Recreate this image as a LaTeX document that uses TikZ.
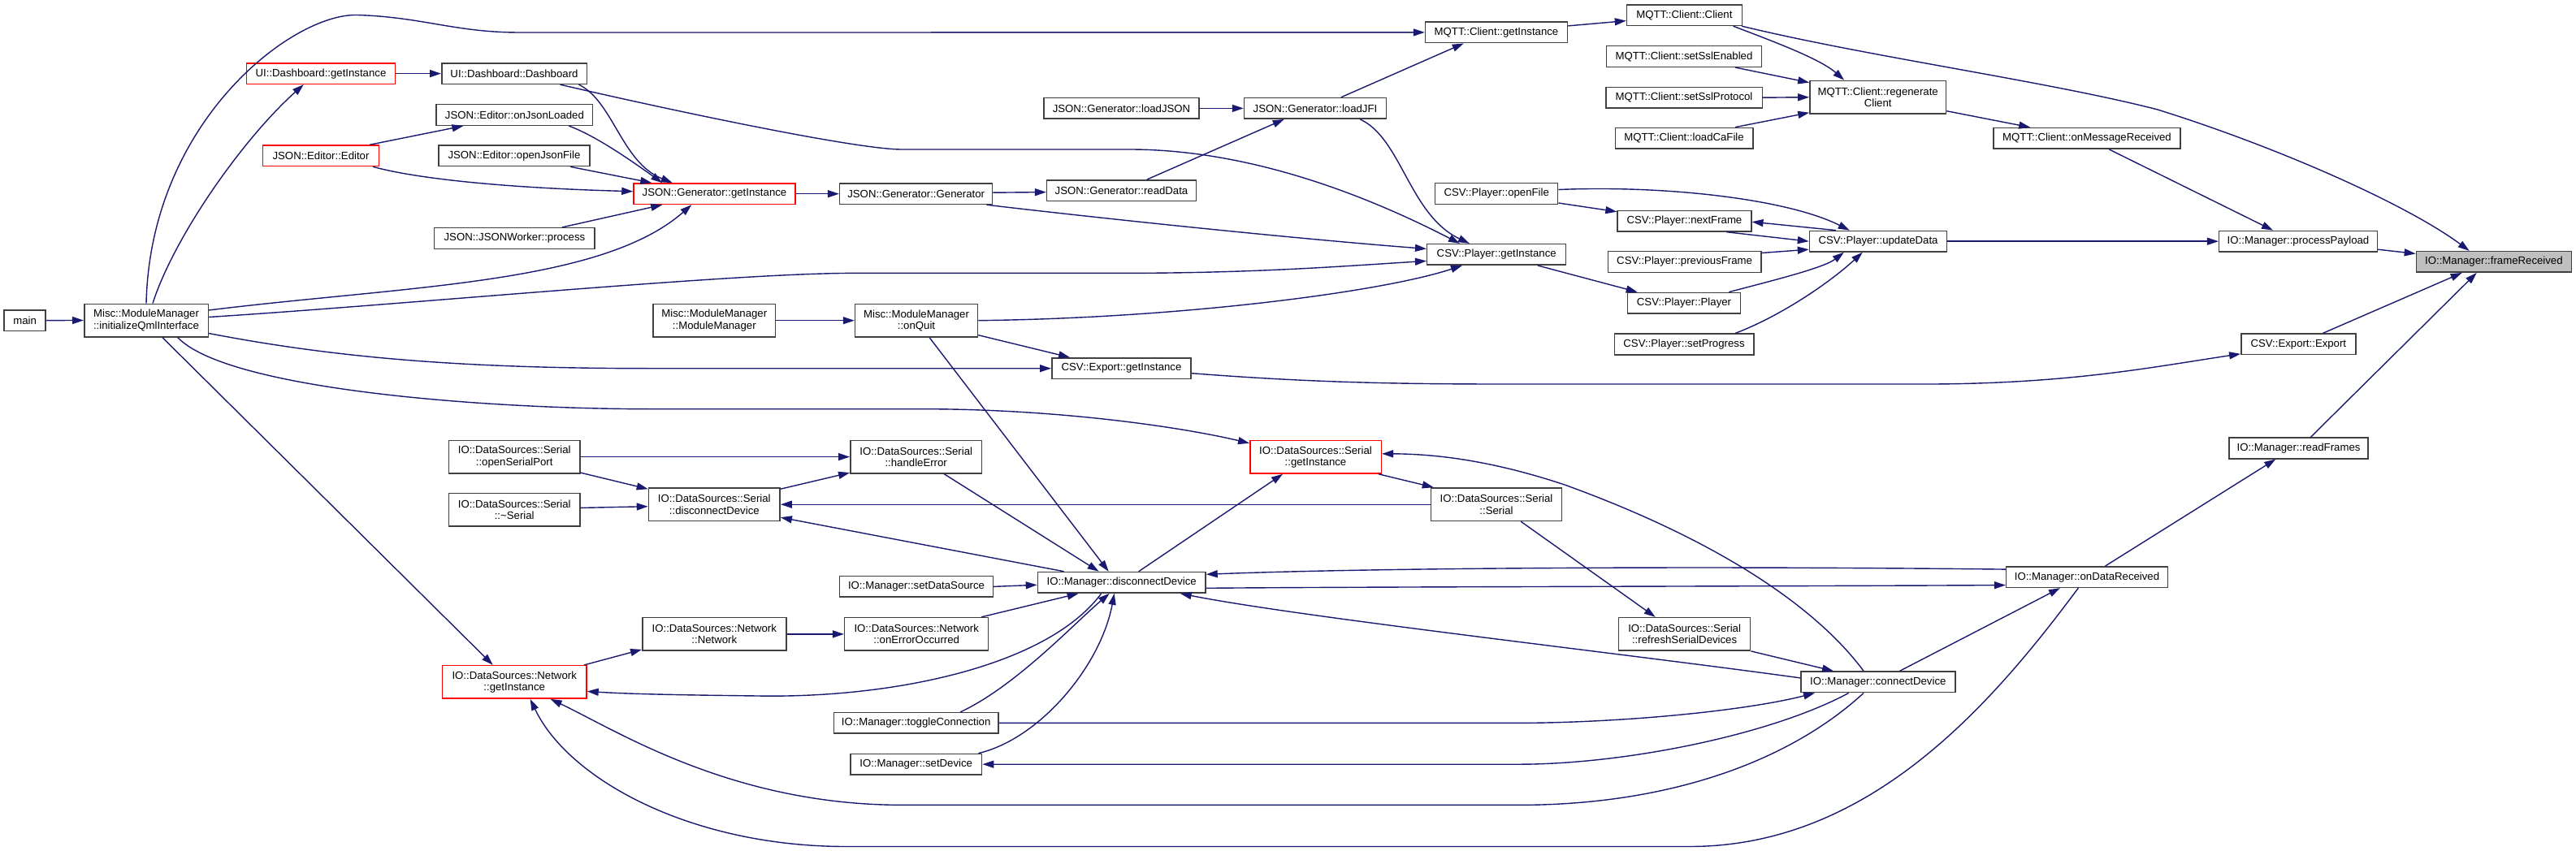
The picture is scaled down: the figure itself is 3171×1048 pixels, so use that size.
\documentclass[tikz,border=0pt]{standalone}
\usepackage{fontspec}
\setmainfont{Liberation Sans}
\usetikzlibrary{arrows.meta,calc}
\definecolor{edgec}{HTML}{191970}
\definecolor{rootfill}{HTML}{BFBFBF}
\definecolor{boxline}{HTML}{404040}
\tikzset{
  fn/.style={draw=boxline, fill=white, line width=1.5pt, inner sep=0pt, minimum height=25.6pt,
    align=center, font=\fontsize{13.2}{14.3}\selectfont, text=black},
  tall/.style={minimum height=40.5pt},
  trunc/.style={draw=red},
  rootnode/.style={fill=rootfill},
  callarrow/.style={draw=edgec, line width=1.4pt, -{Triangle[length=14pt,width=9pt]}}
}
\begin{document}
\begin{tikzpicture}[x=1pt,y=-1pt]
\useasboundingbox (0,0) rectangle (3171,1048);
% ---------------- nodes ----------------
\node[fn, minimum width=51pt] (main) at (30.6,394.6) {main};
\node[fn, tall, minimum width=152.5pt] (iqml) at (180,394.5) {Misc::ModuleManager\\::initializeQmlInterface};
\node[fn, trunc, minimum width=183pt] (udgi) at (395,90.6) {UI::Dashboard::getInstance};
\node[fn, minimum width=178.5pt] (udd) at (633,90.6) {UI::Dashboard::Dashboard};
\node[fn, minimum width=192.4pt] (jeol) at (633.4,141.5) {JSON::Editor::onJsonLoaded};
\node[fn, trunc, minimum width=142.8pt] (jee) at (395,191.8) {JSON::Editor::Editor};
\node[fn, minimum width=185.7pt] (jeof) at (633,191.8) {JSON::Editor::openJsonFile};
\node[fn, minimum width=197.4pt] (jwp) at (633.4,293.5) {JSON::JSONWorker::process};
\node[fn, trunc, minimum width=199pt] (jggi) at (879.5,238.7) {JSON::Generator::getInstance};
\node[fn, minimum width=188pt] (jgg) at (1127.7,238.7) {JSON::Generator::Generator};
\node[fn, minimum width=183.7pt] (jgrd) at (1380.5,234.6) {JSON::Generator::readData};
\node[fn, minimum width=190.8pt] (jglj) at (1380.5,133.4) {JSON::Generator::loadJSON};
\node[fn, minimum width=175pt] (jgjfi) at (1619,133.4) {JSON::Generator::loadJFI};
\node[fn, tall, minimum width=150.5pt] (mmmm) at (879.3,394.7) {Misc::ModuleManager\\::ModuleManager};
\node[fn, tall, minimum width=151pt] (mmoq) at (1128,394.7) {Misc::ModuleManager\\::onQuit};
\node[fn, minimum width=171.4pt] (cegi) at (1380.5,453.7) {CSV::Export::getInstance};
\node[fn, minimum width=175pt] (mcgi) at (1842,39.9) {MQTT::Client::getInstance};
\node[fn, minimum width=141.7pt] (mcc) at (2073.4,18.6) {MQTT::Client::Client};
\node[fn, minimum width=191.4pt] (mcsse) at (2073,69.5) {MQTT::Client::setSslEnabled};
\node[fn, minimum width=192.5pt] (mcssp) at (2073,120.2) {MQTT::Client::setSslProtocol};
\node[fn, minimum width=169.5pt] (mclca) at (2073,170.2) {MQTT::Client::loadCaFile};
\node[fn, tall, minimum width=167.6pt] (mcrc) at (2311.7,119.7) {MQTT::Client::regenerate\\Client};
\node[fn, minimum width=151pt] (cpof) at (1842.2,238.5) {CSV::Player::openFile};
\node[fn, minimum width=164.7pt] (cpnf) at (2073.4,272.2) {CSV::Player::nextFrame};
\node[fn, minimum width=171pt] (cpgi) at (1842.2,313.4) {CSV::Player::getInstance};
\node[fn, minimum width=188.3pt] (cppf) at (2073.6,322.5) {CSV::Player::previousFrame};
\node[fn, minimum width=139.1pt] (cpp) at (2073,373.2) {CSV::Player::Player};
\node[fn, minimum width=171.5pt] (cpsp) at (2073,424) {CSV::Player::setProgress};
\node[fn, minimum width=169pt] (cpud) at (2312,297.2) {CSV::Player::updateData};
\node[fn, minimum width=230pt] (mcomr) at (2569,170.4) {MQTT::Client::onMessageReceived};
\node[fn, minimum width=194.6pt] (impp) at (2829,297.2) {IO::Manager::processPayload};
\node[fn, rootnode, minimum width=191pt] (imfr) at (3069.9,322.4) {IO::Manager::frameReceived};
\node[fn, minimum width=141pt] (cee) at (2829.3,423.8) {CSV::Export::Export};
\node[fn, minimum width=171pt] (imrf) at (2829.5,552) {IO::Manager::readFrames};
\node[fn, minimum width=198.7pt] (imodr) at (2569,710.6) {IO::Manager::onDataReceived};
\node[fn, tall, trunc, minimum width=161.5pt] (sgi) at (1619.5,562.8) {IO::DataSources::Serial\\::getInstance};
\node[fn, tall, minimum width=161pt] (sser) at (1842,621.2) {IO::DataSources::Serial\\::Serial};
\node[fn, tall, minimum width=162.2pt] (srsd) at (2073.6,780.9) {IO::DataSources::Serial\\::refreshSerialDevices};
\node[fn, minimum width=190pt] (imcd) at (2311.8,839.9) {IO::Manager::connectDevice};
\node[fn, tall, minimum width=161.8pt] (she) at (1127.7,562.6) {IO::DataSources::Serial\\::handleError};
\node[fn, tall, minimum width=161.7pt] (sdd) at (879.3,621.2) {IO::DataSources::Serial\\::disconnectDevice};
\node[fn, minimum width=188.8pt] (imsds) at (1128,722.4) {IO::Manager::setDataSource};
\node[fn, minimum width=206.6pt] (imdd) at (1380.7,717.3) {IO::Manager::disconnectDevice};
\node[fn, tall, minimum width=177pt] (nn) at (879.3,780.9) {IO::DataSources::Network\\::Network};
\node[fn, tall, minimum width=177pt] (neo) at (1128.2,780.9) {IO::DataSources::Network\\::onErrorOccurred};
\node[fn, minimum width=202.6pt] (imtc) at (1127.7,890.4) {IO::Manager::toggleConnection};
\node[fn, minimum width=161.8pt] (imsd) at (1127.7,941.2) {IO::Manager::setDevice};
\node[fn, tall, minimum width=161.2pt] (sosp) at (633.2,562.6) {IO::DataSources::Serial\\::openSerialPort};
\node[fn, tall, minimum width=161.2pt] (sds) at (633.2,627.7) {IO::DataSources::Serial\\::\textasciitilde Serial};
\node[fn, tall, trunc, minimum width=177.6pt] (ngi) at (633.2,839.9) {IO::DataSources::Network\\::getInstance};
% ---------------- edges ----------------
\draw[callarrow] (main.east) -- (iqml.west);
\draw[callarrow] ($(iqml.north west)+(85,0)$) .. controls (215,290) and (300,170) .. ($(udgi.south west)+(71,0)$);
\draw[callarrow] (udgi.east) -- (udd.west);
\draw[callarrow] ($(jee.north east)+(-12,0)$) -- ($(jeol.south west)+(34,0)$);
\draw[callarrow] ($(jee.south east)+(-8,0)$) .. controls (520,222) and (640,232) .. ($(jggi.west)+(0,-3)$);
\draw[callarrow] ($(udd.south east)+(-10.5,0)$) .. controls (755,125) and (765,200) .. ($(jggi.north west)+(48.5,0)$);
\draw[callarrow] ($(jeol.south east)+(-30,0)$) .. controls (735,168) and (780,200) .. ($(jggi.north west)+(36,0)$);
\draw[callarrow] ($(jeof.south east)+(-24.5,0)$) -- ($(jggi.north west)+(23,0)$);
\draw[callarrow] ($(jwp.north east)+(-41,0)$) -- ($(jggi.south west)+(36,0)$);
\draw[callarrow] ($(iqml.east)+(0,-12.5)$) .. controls (500,352) and (740,350) .. ($(jggi.south west)+(72,0)$);
\draw[callarrow] (jggi.east) -- (jgg.west);
\draw[callarrow] ($(jgg.east)+(0,-1.5)$) -- ($(jgrd.west)+(0,2)$);
\draw[callarrow] ($(jgrd.north west)+(124,0)$) -- ($(jgjfi.south west)+(50,0)$);
\draw[callarrow] (jglj.east) -- (jgjfi.west);
\draw[callarrow] ($(jgjfi.north west)+(120,0)$) -- ($(mcgi.south west)+(48,0)$);
\draw[callarrow] ($(jgjfi.south west)+(143.5,0)$) .. controls (1725,170) and (1735,265) .. ($(cpgi.north west)+(53,0)$);
\draw[callarrow] ($(iqml.north west)+(77,0)$) .. controls (185,150) and (360,16) .. (440,18.5) .. controls (520,21) and (560,40) .. (640,40) -- (mcgi.west);
\draw[callarrow] ($(mcgi.east)+(0,-8)$) -- ($(mcc.west)+(0,7)$);
\draw[callarrow] ($(mcc.south east)+(-11.5,0)$) .. controls (2180,50) and (2240,72) .. ($(mcrc.north west)+(43,0)$);
\draw[callarrow] ($(mcc.south east)+(-1,0)$) .. controls (2300,70) and (2520,100) .. (2656,135) .. controls (2800,180) and (2960,250) .. ($(imfr.north west)+(66,0)$);
\draw[callarrow] ($(mcsse.south east)+(-33.5,0)$) -- ($(mcrc.west)+(0,-18)$);
\draw[callarrow] (mcssp.east) -- (mcrc.west);
\draw[callarrow] ($(mclca.north east)+(-22.5,0)$) -- ($(mcrc.west)+(0,19)$);
\draw[callarrow] ($(mcrc.east)+(0,17)$) -- ($(mcomr.north west)+(46,0)$);
\draw[callarrow] ($(mcomr.south west)+(143,0)$) -- ($(impp.north west)+(67,0)$);
\draw[callarrow] ($(impp.east)+(0,10)$) -- ($(imfr.west)+(0,-10)$);
\draw[callarrow] (cpud.east) -- (impp.west);
\draw[callarrow] ($(cee.north west)+(101.6,0)$) -- ($(imfr.south west)+(57,0)$);
\draw[callarrow] ($(imrf.north west)+(101,0)$) -- ($(imfr.south west)+(75,0)$);
\draw[callarrow] ($(imodr.north west)+(122.6,0)$) -- ($(imrf.south west)+(58,0)$);
\draw[callarrow] ($(cegi.east)+(0,6)$) .. controls (1600,470) and (1700,473) .. (1850,473) -- (2380,473) .. controls (2550,472) and (2650,452) .. ($(cee.west)+(0,12)$);
\draw[callarrow] ($(iqml.east)+(0,16)$) .. controls (420,442) and (580,453.7) .. (800,453.7) -- (cegi.west);
\draw[callarrow] ($(mmoq.east)+(0,18)$) -- ($(cegi.north west)+(23,0)$);
\draw[callarrow] (mmmm.east) -- (mmoq.west);
\draw[callarrow] ($(udd.south east)+(-33.5,0)$) .. controls (800,130) and (1050,184) .. (1110,184) -- (1390,184) .. controls (1550,184) and (1700,250) .. ($(cpgi.north west)+(41,0)$);
\draw[callarrow] ($(jgg.south east)+(-8,0)$) .. controls (1400,274) and (1620,296) .. ($(cpgi.west)+(0,-7)$);
\draw[callarrow] ($(iqml.east)+(0,-4)$) .. controls (500,375) and (900,336.4) .. (1050,336.4) -- (1390,336.4) .. controls (1550,336) and (1650,328) .. ($(cpgi.west)+(0,8)$);
\draw[callarrow] (mmoq.east) .. controls (1450,392) and (1700,360) .. ($(cpgi.south west)+(44,0)$);
\draw[callarrow] ($(cpgi.south east)+(-35.7,0)$) -- ($(cpp.north west)+(13,0)$);
\draw[callarrow] ($(cpof.east)+(0,11.5)$) -- ($(cpnf.west)+(0,-11.5)$);
\draw[callarrow] ($(cpof.east)+(0,-5)$) .. controls (2050,228) and (2200,245) .. ($(cpud.north west)+(50,0)$);
\draw[callarrow] ($(cpud.north west)+(33.4,0)$) -- ($(cpnf.east)+(0,1)$);
\draw[callarrow] ($(cpnf.south east)+(-31,0)$) -- (cpud.west);
\draw[callarrow] ($(cppf.east)+(0,-11)$) -- ($(cpud.west)+(0,10)$);
\draw[callarrow] ($(cpp.north east)+(-15,0)$) .. controls (2180,346) and (2245,330) .. ($(cpud.south west)+(43,0)$);
\draw[callarrow] ($(cpsp.north east)+(-23.5,0)$) .. controls (2190,390) and (2250,350) .. ($(cpud.south west)+(66,0)$);
\draw[callarrow] (sosp.east) -- (she.west);
\draw[callarrow] ($(sosp.east)+(0,19.5)$) -- ($(sdd.west)+(0,-19)$);
\draw[callarrow] ($(sds.east)+(0,-2.3)$) -- ($(sdd.west)+(0,2.5)$);
\draw[callarrow] ($(sdd.east)+(0,-19)$) -- ($(she.west)+(0,19.5)$);
\draw[callarrow] ($(she.south west)+(116,0)$) -- ($(imdd.north west)+(76,0)$);
\draw[callarrow] ($(mmoq.south west)+(92.4,0)$) -- ($(imdd.north west)+(88,0)$);
\draw[callarrow] ($(imdd.north west)+(33,0)$) -- ($(sdd.east)+(0,16)$);
\draw[callarrow] (sser.west) -- (sdd.east);
\draw[callarrow] ($(imdd.north west)+(125,0)$) -- ($(sgi.south west)+(41,0)$);
\draw[callarrow] ($(iqml.south west)+(115.7,0)$) .. controls (280,480) and (600,503.7) .. (800,503.7) -- (1140,503.7) .. controls (1300,504) and (1450,525) .. ($(sgi.west)+(0,-17)$);
\draw[callarrow] ($(sgi.south east)+(-4,0)$) -- ($(sser.north west)+(4,0)$);
\draw[callarrow] ($(imcd.north west)+(78,0)$) .. controls (2230,740) and (2100,660) .. (1926,597) .. controls (1830,565) and (1760,559) .. ($(sgi.east)+(0,-4)$);
\draw[callarrow] ($(sser.south west)+(111.4,0)$) -- ($(srsd.north west)+(46,0)$);
\draw[callarrow] (srsd.south east) -- ($(imcd.north west)+(41,0)$);
\draw[callarrow] ($(imodr.west)+(0,-9.5)$) .. controls (2100,697) and (1700,699) .. ($(imdd.east)+(0,-10)$);
\draw[callarrow] ($(imdd.east)+(0,7)$) .. controls (1700,722.5) and (2200,722) .. ($(imodr.west)+(0,10)$);
\draw[callarrow] ($(imcd.west)+(0,-5)$) .. controls (2000,805) and (1600,760) .. ($(imdd.south west)+(176,0)$);
\draw[callarrow] (imsds.east) -- ($(imdd.west)+(0,3)$);
\draw[callarrow] ($(neo.north west)+(169,0)$) -- ($(imdd.south west)+(51,0)$);
\draw[callarrow] (nn.east) -- (neo.west);
\draw[callarrow] ($(ngi.north east)+(-3.6,0)$) -- ($(nn.west)+(0,19)$);
\draw[callarrow] ($(imdd.south west)+(79,0)$) .. controls (1290,820) and (1100,860) .. (933,857) .. controls (850,856) and (780,855) .. ($(ngi.east)+(0,11.5)$);
\draw[callarrow] ($(imtc.north west)+(156.6,0)$) .. controls (1250,845) and (1320,770) .. ($(imdd.south west)+(89,0)$);
\draw[callarrow] ($(imsd.north east)+(-5,0)$) .. controls (1280,910) and (1355,820) .. ($(imdd.south west)+(95,0)$);
\draw[callarrow] (imtc.east) -- (1870,890.4) .. controls (2000,890) and (2150,875) .. ($(imcd.south west)+(18,0)$);
\draw[callarrow] ($(imcd.south west)+(59.6,0)$) .. controls (2180,905) and (2000,941.2) .. (1870,941.2) -- (imsd.east);
\draw[callarrow] ($(imcd.south west)+(78,0)$) .. controls (2200,940) and (2050,991.4) .. (1870,991.4) -- (1110,991.4) .. controls (900,991) and (760,900) .. ($(ngi.south west)+(134,0)$);
\draw[callarrow] ($(imodr.south west)+(89.4,0)$) .. controls (2450,870) and (2300,1042.5) .. (2080,1042.5) -- (1040,1042.5) .. controls (850,1042) and (700,960) .. ($(ngi.south west)+(109,0)$);
\draw[callarrow] ($(iqml.south west)+(96.8,0)$) -- ($(ngi.north west)+(63,0)$);
\draw[callarrow] ($(imcd.north west)+(122.4,0)$) -- ($(imodr.south west)+(67,0)$);
\end{tikzpicture}
\end{document}
